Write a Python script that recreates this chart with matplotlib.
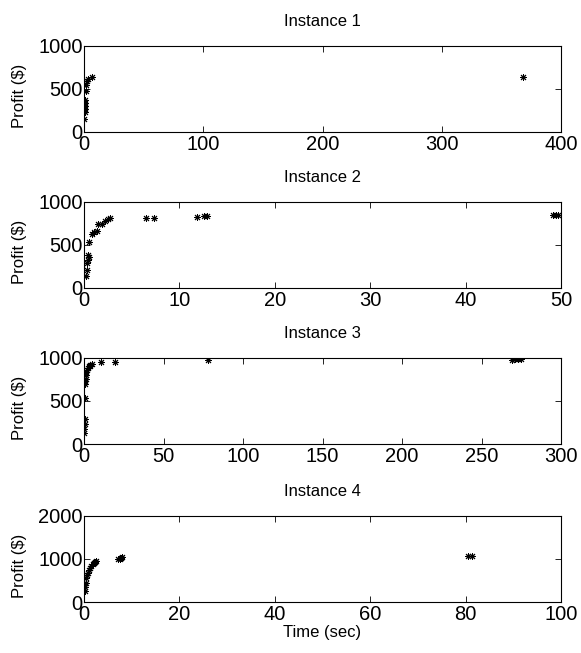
import numpy as np
import matplotlib.pyplot as plt

plt.rcParams['font.family'] = ['Liberation Sans', 'DejaVu Sans']

# Instance 1
x1 = [0.3, 0.5, 0.6, 0.8, 1.0, 1.2, 1.5, 2.0, 2.5, 3.0, 7.0, 368]
y1 = [150, 230, 260, 300, 340, 370, 470, 540, 590, 610, 640, 640]

# Instance 2
x2 = [0.2, 0.28, 0.35, 0.45, 0.55, 0.45, 0.56, 0.8, 1.0, 1.33, 1.5, 1.85, 2.2, 2.55,
      2.7, 6.5, 7.3, 11.8, 12.6, 12.9, 49.2, 49.5, 49.7]
y2 = [136, 208, 284, 320, 360, 380, 530, 625, 650, 663, 740, 745, 776, 795,
      810, 806, 806, 826, 833, 833, 845, 850, 848]

# Instance 3
x3 = [0.2, 0.3, 0.4, 0.5, 0.6, 0.8, 0.9, 1.0, 1.2, 1.5, 2.0, 2.5, 3.0, 3.5, 4.0, 5.0,
      10.5, 19.5, 78, 269, 271, 273, 275]
y3 = [125, 174, 231, 287, 534, 700, 730, 760, 800, 830, 860, 880, 900, 910, 920, 930,
      950, 950, 970, 980, 985, 985, 990]

# Instance 4
x4 = [0.2, 0.3, 0.4, 0.5, 0.6, 0.8, 1.0, 1.2, 1.5, 1.8, 2.1, 2.4, 2.6,
      7.2, 7.5, 7.8, 8.0, 80.6, 81.4]
y4 = [250, 350, 450, 550, 620, 680, 740, 790, 840, 880, 910, 940, 960,
      990, 1010, 1030, 1050, 1060, 1060]

xs = [x1, x2, x3, x4]
ys = [y1, y2, y3, y4]
titles = ['Instance 1', 'Instance 2', 'Instance 3', 'Instance 4']
xlims = [400, 50, 300, 100]
xtick_steps = [100, 10, 50, 20]
ylims = [1000, 1000, 1000, 2000]
ytick_steps = [500, 500, 500, 1000]

fig = plt.figure(figsize=(5.81, 6.53), dpi=100)
bottoms = [0.798, 0.559, 0.320, 0.078]

for i in range(4):
    ax = fig.add_axes([0.1446, bottoms[i], 0.821, 0.132])
    ax.plot(xs[i], ys[i], linestyle='none', marker=(8, 2, 0), markersize=5,
            markeredgewidth=0.7, color='black')
    ax.set_xlim(0, xlims[i])
    ax.set_ylim(0, ylims[i])
    ax.set_xticks(np.arange(0, xlims[i] + 1, xtick_steps[i]))
    ax.set_yticks(np.arange(0, ylims[i] + 1, ytick_steps[i]))
    ax.tick_params(direction='in', top=True, right=True, labelsize=14.5,
                   length=4, width=0.6, pad=1)
    ax.tick_params(axis='x', pad=2)
    for s in ax.spines.values():
        s.set_linewidth(0.8)
    ax.set_title(titles[i], fontsize=12, pad=14)
    ax.set_ylabel('Profit ($)', fontsize=12)
    ax.yaxis.set_label_coords(-0.12, 0.42)

ax.set_xlabel('Time (sec)', fontsize=12, labelpad=1)

plt.savefig('out.png', dpi=100)
